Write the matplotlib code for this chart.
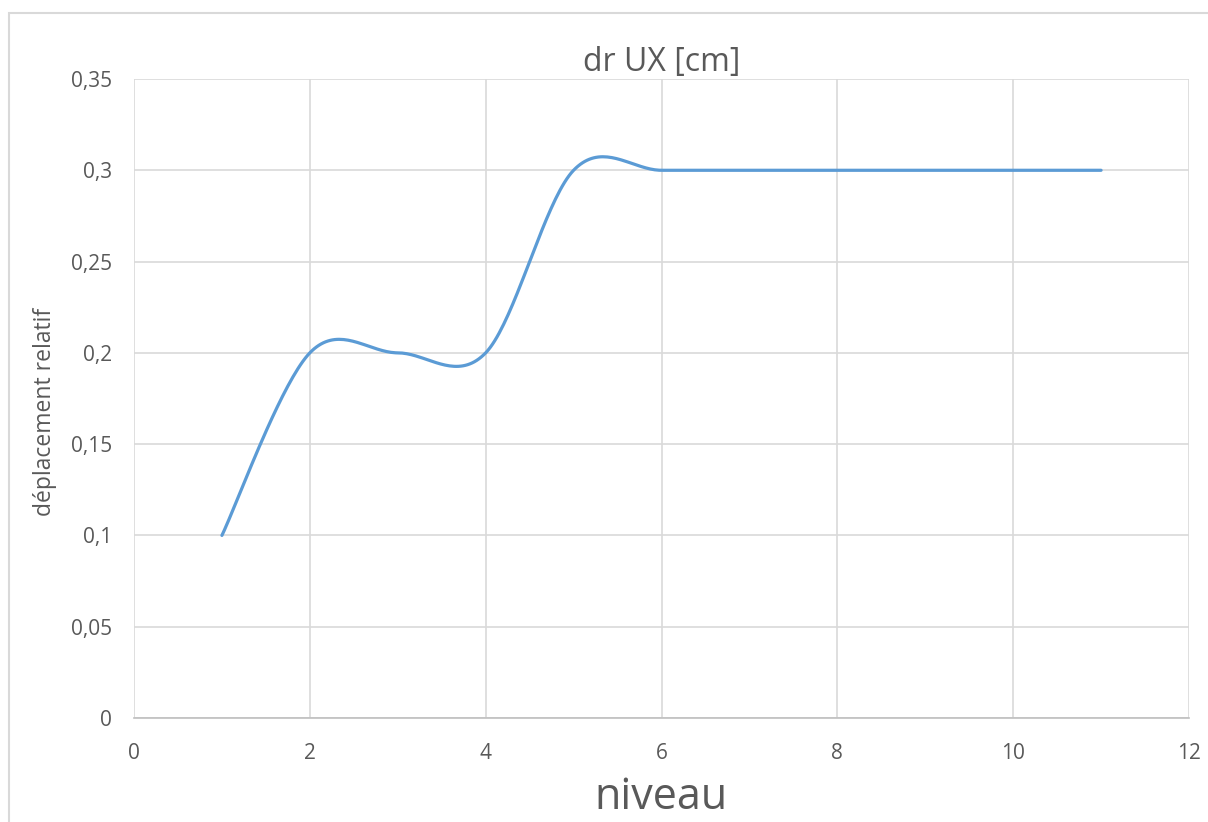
import numpy as np
import matplotlib
matplotlib.use("Agg")
import matplotlib.pyplot as plt
from matplotlib.ticker import FuncFormatter
from matplotlib.patches import Rectangle

# data
niveau = [1, 2, 3, 4, 5, 6, 7, 8, 9, 10, 11]
dr_ux = [0.1, 0.2, 0.2, 0.2, 0.3, 0.3, 0.3, 0.3, 0.3, 0.3, 0.3]


def smooth_line(x, y, n=40):
    # Excel-like smoothed line: cubic Bezier with Catmull-Rom control points
    x = np.asarray(x, float)
    y = np.asarray(y, float)
    px, py = [], []
    t = np.linspace(0, 1, n)
    for i in range(len(x) - 1):
        x0, y0 = x[max(i - 1, 0)], y[max(i - 1, 0)]
        x3, y3 = x[min(i + 2, len(x) - 1)], y[min(i + 2, len(x) - 1)]
        c1x = x[i] + (x[i + 1] - x0) / 6
        c1y = y[i] + (y[i + 1] - y0) / 6
        c2x = x[i + 1] - (x3 - x[i]) / 6
        c2y = y[i + 1] - (y3 - y[i]) / 6
        bx = ((1 - t) ** 3 * x[i] + 3 * (1 - t) ** 2 * t * c1x
              + 3 * (1 - t) * t ** 2 * c2x + t ** 3 * x[i + 1])
        by = ((1 - t) ** 3 * y[i] + 3 * (1 - t) ** 2 * t * c1y
              + 3 * (1 - t) * t ** 2 * c2y + t ** 3 * y[i + 1])
        px.extend(bx)
        py.extend(by)
    return px, py


plt.rcParams['font.family'] = ['Open Sans', 'DejaVu Sans']
text_col = '#595959'

fig = plt.figure(figsize=(12.08, 8.22), dpi=100)
ax = fig.add_axes([134 / 1208, 1 - 718 / 822, (1189 - 134) / 1208, (718 - 79) / 822])

# outer chart border
fig.patches.append(Rectangle((9 / 1208, -0.01), 1.1, 1 - 13 / 822 + 0.01,
                             transform=fig.transFigure, fill=False,
                             edgecolor='#D9D9D9', linewidth=1.5))

sx, sy = smooth_line(niveau, dr_ux)
ax.plot(sx, sy, color='#5B9BD5', linewidth=2.3, solid_capstyle='round')

ax.set_xlim(0, 12)
ax.set_ylim(0, 0.35)
ax.set_xticks(np.arange(0, 13, 2))
ax.set_yticks(np.arange(0, 0.351, 0.05))
ax.yaxis.set_major_formatter(FuncFormatter(lambda v, p: ('%g' % round(v, 2)).replace('.', ',')))

ax.grid(True, color='#D9D9D9', linewidth=1.2)
ax.set_axisbelow(True)
for s in ['top', 'right']:
    ax.spines[s].set_visible(False)
ax.spines['left'].set_visible(False)
ax.spines['bottom'].set_color('#BFBFBF')
ax.spines['bottom'].set_linewidth(1.2)
ax.tick_params(length=0, labelsize=15, colors=text_col)
ax.tick_params(axis='y', pad=16)
ax.tick_params(axis='x', pad=18)

ax.set_title('dr UX [cm]', fontsize=23, color=text_col, pad=4)
ax.set_xlabel('niveau', fontsize=31, color=text_col, labelpad=8)
ax.set_ylabel('déplacement relatif', fontsize=16.5, color=text_col,
              va='center', ha='center')
# label sits a bit below the axis middle in the original
ax.yaxis.set_label_coords((45 - 134) / 1055, (718 - 412) / 639)

fig.savefig('out.png', dpi=100)
